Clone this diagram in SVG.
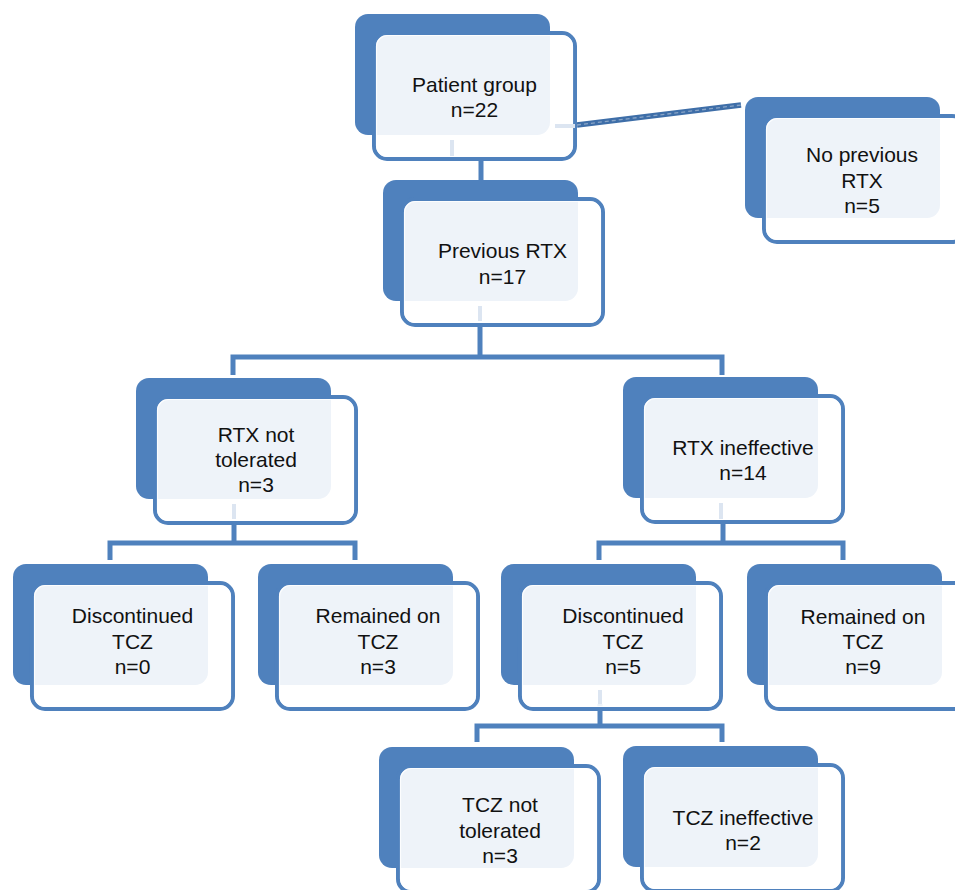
<svg xmlns="http://www.w3.org/2000/svg" width="955" height="890" viewBox="0 0 955 890">
<style>
.back{fill:#4F81BD}
.front{fill:#FFFFFF;fill-opacity:0.9;stroke:#4F81BD;stroke-width:4}
.edge{fill:none;stroke:#FFFFFF;stroke-width:1.2;stroke-opacity:0.8}
.lbl{font-family:"Liberation Sans",Arial,sans-serif;font-size:21px;fill:#111111;text-anchor:middle}
.conn{fill:none;stroke:#4F81BD;stroke-width:5}
.faint{fill:none;stroke:#DCE5F1;stroke-width:4}
</style>
<defs>
<g id="shape">
<rect class="back" x="0" y="0" width="195" height="121" rx="13"/>
<rect class="front" x="19" y="19" width="201" height="126" rx="13"/>
<rect class="edge" x="21.5" y="21.5" width="196" height="121" rx="11"/>
</g>
</defs>
<rect x="0" y="0" width="955" height="890" fill="#FFFFFF"/>
<g id="connectors">
<line class="conn" x1="481" y1="160" x2="481" y2="182"/>
<line x1="577" y1="125" x2="741" y2="105" stroke="#3E6EA8" stroke-width="5.5"/>
<line x1="577" y1="125" x2="741" y2="105" stroke="#A9BCD4" stroke-opacity="0.7" stroke-width="1.3" stroke-dasharray="4 3"/>
<polyline class="conn" points="480,323 480,357"/>
<polyline class="conn" points="233,375 233,357 722,357 722,375"/>
<polyline class="conn" points="234,521 234,543"/>
<polyline class="conn" points="110,560 110,543 355,543 355,560"/>
<polyline class="conn" points="723,521 723,543"/>
<polyline class="conn" points="599,560 599,543 843,543 843,560"/>
<polyline class="conn" points="600,704 600,726"/>
<polyline class="conn" points="477,742 477,726 722,726 722,742"/>
</g>
<g id="n1" transform="translate(355,14)">
<use href="#shape"/>
<line class="faint" x1="97" y1="126" x2="97" y2="142"/>
<line class="faint" x1="200" y1="112" x2="220" y2="112"/>
<text class="lbl" x="119.5" y="78">Patient group</text>
<text class="lbl" x="119.5" y="103">n=22</text>
</g>
<g id="n2" transform="translate(745,97)">
<use href="#shape"/>
<text class="lbl" x="117" y="65">No previous</text>
<text class="lbl" x="117" y="91">RTX</text>
<text class="lbl" x="117" y="116">n=5</text>
</g>
<g id="n3" transform="translate(383,180)">
<use href="#shape"/>
<line class="faint" x1="97" y1="126" x2="97" y2="141"/>
<text class="lbl" x="119.5" y="78">Previous RTX</text>
<text class="lbl" x="119.5" y="104">n=17</text>
</g>
<g id="n4" transform="translate(136,378)">
<use href="#shape"/>
<line class="faint" x1="98" y1="126" x2="98" y2="141"/>
<text class="lbl" x="120" y="64">RTX not</text>
<text class="lbl" x="120" y="89">tolerated</text>
<text class="lbl" x="120" y="114">n=3</text>
</g>
<g id="n5" transform="translate(623,377)">
<use href="#shape"/>
<line class="faint" x1="98" y1="126" x2="98" y2="142"/>
<text class="lbl" x="120" y="78">RTX ineffective</text>
<text class="lbl" x="120" y="103">n=14</text>
</g>
<g id="n6" transform="translate(13,564)">
<use href="#shape"/>
<text class="lbl" x="119.5" y="59">Discontinued</text>
<text class="lbl" x="119.5" y="85">TCZ</text>
<text class="lbl" x="119.5" y="110">n=0</text>
</g>
<g id="n7" transform="translate(258,564)">
<use href="#shape"/>
<text class="lbl" x="120" y="59">Remained on</text>
<text class="lbl" x="120" y="85">TCZ</text>
<text class="lbl" x="120" y="110">n=3</text>
</g>
<g id="n8" transform="translate(501,564)">
<use href="#shape"/>
<line class="faint" x1="99" y1="126" x2="99" y2="140"/>
<text class="lbl" x="122" y="59">Discontinued</text>
<text class="lbl" x="122" y="85">TCZ</text>
<text class="lbl" x="122" y="110">n=5</text>
</g>
<g id="n9" transform="translate(747,564)">
<use href="#shape"/>
<text class="lbl" x="116" y="60">Remained on</text>
<text class="lbl" x="116" y="85">TCZ</text>
<text class="lbl" x="116" y="110">n=9</text>
</g>
<g id="n10" transform="translate(379,747)">
<use href="#shape"/>
<text class="lbl" x="121" y="65">TCZ not</text>
<text class="lbl" x="121" y="91">tolerated</text>
<text class="lbl" x="121" y="116">n=3</text>
</g>
<g id="n11" transform="translate(623,746)">
<use href="#shape"/>
<text class="lbl" x="120" y="79">TCZ ineffective</text>
<text class="lbl" x="120" y="104">n=2</text>
</g>
</svg>
